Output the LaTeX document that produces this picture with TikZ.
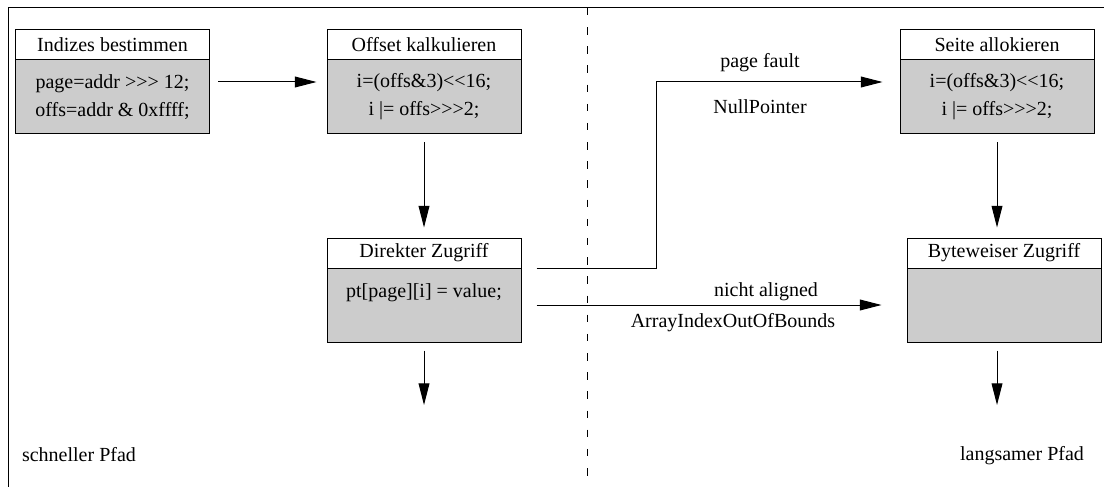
\documentclass[tikz,border=0pt]{standalone}
\usepackage{fontspec}
\setmainfont{Liberation Serif}[Ligatures=TeXOff]
\usetikzlibrary{arrows.meta}

\begin{document}
\begin{tikzpicture}[x=0.6pt, y=-0.6pt, line width=0.6pt,
    font=\fontsize{12}{13.8}\selectfont,
    box/.style={draw, fill=gray!40, minimum width=116.4pt, minimum height=62.4pt, inner sep=0pt},
    kopf/.style={draw, fill=white, anchor=north, minimum width=116.4pt, minimum height=18pt, inner sep=0pt},
    inhalt/.style={align=center, inner sep=0pt},
    pfeil/.style={-{Triangle[length=13pt, width=6.5pt]}},
    trenn/.style={dash pattern=on 4.5pt off 7pt}]
    \useasboundingbox (0,0) rectangle (1104,487);

    % 枠
    \draw (1104,8) -- (8,8) -- (8,487);
    \draw[trenn] (587,8) -- (587,487);

    % ノード
    \node[box] (indizes) at (112.5,82) {};
    \node[kopf] (indizesKopf) at (indizes.north) {Indizes bestimmen};
    \node[inhalt] (indizesText) at (112.5,97) {page=addr >>> 12;\\[3pt]offs=addr \& 0xffff;};

    \node[box] (offset) at (424,82) {};
    \node[kopf] (offsetKopf) at (offset.north) {Offset kalkulieren};
    \node[inhalt] (offsetText) at (424,97) {i=(offs\&3)<<16;\\[3pt]i |= offs>>>2;};

    \node[box] (seite) at (997,82) {};
    \node[kopf] (seiteKopf) at (seite.north) {Seite allokieren};
    \node[inhalt] (seiteText) at (997,97) {i=(offs\&3)<<16;\\[3pt]i |= offs>>>2;};

    \node[box] (direkt) at (424,290) {};
    \node[kopf] (direktKopf) at (direkt.north) {Direkter Zugriff};
    \node[inhalt] (direktText) at (424,293) {pt[page][i] = value;};

    \node[box] (byte) at (1004,290) {};
    \node[kopf] (byteKopf) at (byte.north) {Byteweiser Zugriff};

    \coordinate (knick) at (656,82);
    \coordinate (direktAus) at (424,405);
    \coordinate (byteAus) at (997,405);

    % エッジ
    \draw[pfeil, shorten <=4.8pt, shorten >=6pt] (indizes) -- (offset);
    \draw[pfeil, shorten <=4.8pt, shorten >=6pt] (offset) -- (direkt);
    \draw[pfeil, shorten <=4.8pt, shorten >=6pt] (seite.south) -- (seite.south |- byte.north);
    \draw[pfeil, shorten <=9pt, shorten >=10.2pt] (direktKopf.south east) -| (knick) -- (seite.west);
    \draw[pfeil, shorten <=9pt, shorten >=15pt] ([yshift=-9pt]direkt.east) -- ([yshift=-9pt]byte.west);
    \draw[pfeil, shorten <=4.8pt] (direkt) -- (direktAus);
    \draw[pfeil, shorten <=4.8pt] (byte.south -| byteAus) -- (byteAus);

    % ラベル
    \node (pagefault) at (760,63) {page fault};
    \node (nullpointer) at (760,107) {NullPointer};
    \node (nichtaligned) at (766,292) {nicht aligned};
    \node (arrayindex) at (733,323) {ArrayIndexOutOfBounds};
    \node[anchor=west] (schnell) at (16,455) {schneller Pfad};
    \node[anchor=west] (langsam) at (954,456) {langsamer Pfad};
\end{tikzpicture}
\end{document}
